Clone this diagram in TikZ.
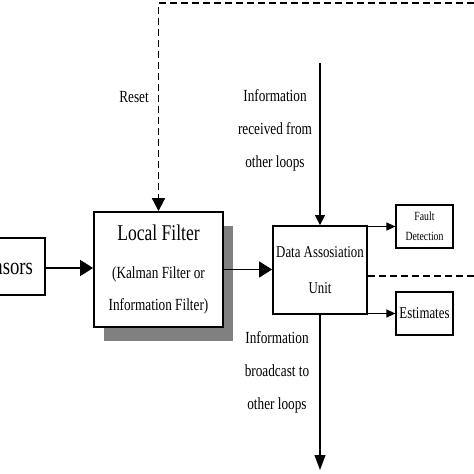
\documentclass[tikz,border=0pt]{standalone}
\usepackage{fontspec}
\setmainfont{Liberation Serif}[FakeStretch=0.78]
\usetikzlibrary{arrows.meta,shadows}
\begin{document}
\begin{tikzpicture}[x=1pt,y=-1pt,
  box/.style={draw, line width=1.8pt, fill=white, inner sep=0pt},
  arr/.style={line width=1.6pt, -{Triangle[length=13pt,width=16pt]}},
  thinarr/.style={line width=1.2pt, -{Triangle[length=10pt,width=10pt]}},
  smallarr/.style={line width=1.2pt, -{Triangle[length=9pt,width=8pt]}},
  dsh/.style={line width=1.8pt, dash pattern=on 7pt off 4pt},
  lbl/.style={align=center, font=\fontsize{17}{33}\selectfont}]
\useasboundingbox (0,0) rectangle (474,474);
\clip (0,0) rectangle (474,474);
% boxes
\node[box, minimum width=105pt, minimum height=57pt, text width=81pt, align=right,
      inner xsep=12pt, font=\fontsize{24}{24}\selectfont] (sensors) at (-7.5,266.5) {Sensors};
\node[box, minimum width=129pt, minimum height=115pt, align=center,
      drop shadow={shadow xshift=10pt, shadow yshift=-14pt, fill=black!50, opacity=1},
      font=\fontsize{17}{32}\selectfont] (lf) at (158.5,269.5)
      {{\fontsize{22.5}{22}\selectfont Local Filter}\\[6pt](Kalman Filter or\\Information Filter)};
\node[box, minimum width=94pt, minimum height=88pt, align=center,
      font=\fontsize{16.5}{36}\selectfont] (dau) at (320,270) {Data Assosiation\\Unit};
\node[box, line width=1.2pt, minimum width=57pt, minimum height=43pt, align=center,
      font=\fontsize{12.5}{20}\selectfont] (fault) at (424.5,226.5) {Fault\\Detection};
\node[box, line width=1.2pt, minimum width=57pt, minimum height=43pt, align=center,
      font=\fontsize{16.5}{16}\selectfont] (est) at (424.5,313.5) {Estimates};
% coordinates
\coordinate (topR) at (474,3);
\coordinate (dashR) at (474,276);
\coordinate (inTop) at (320,63);
\coordinate (outBot) at (320,470);
% connectors
\draw[arr] (sensors.east |- 0,268) -- (lf.west |- 0,268);
\draw[arr] (lf.east) -- (lf.east -| dau.west);
\draw[smallarr] (fault.west -| dau.east) -- (fault.west);
\draw[smallarr] (est.west -| dau.east) -- (est.west);
\draw[dsh] (dau.east |- dashR) -- (dashR);
\draw[dsh, -{Triangle[length=13pt,width=13pt]}] (topR) -- (lf.north |- topR) -- (lf.north);
\draw[thinarr] (inTop) -- (dau.north);
\draw[line width=1.2pt, -{Triangle[length=15pt,width=11pt]}] (dau.south) -- (outBot);
% labels
\node[lbl] (reset) at (134,97) {Reset};
\node[lbl] (recv) at (275,130) {Information\\received from\\other loops};
\node[lbl] (bcast) at (277,372) {Information\\broadcast to\\other loops};
\end{tikzpicture}
\end{document}
